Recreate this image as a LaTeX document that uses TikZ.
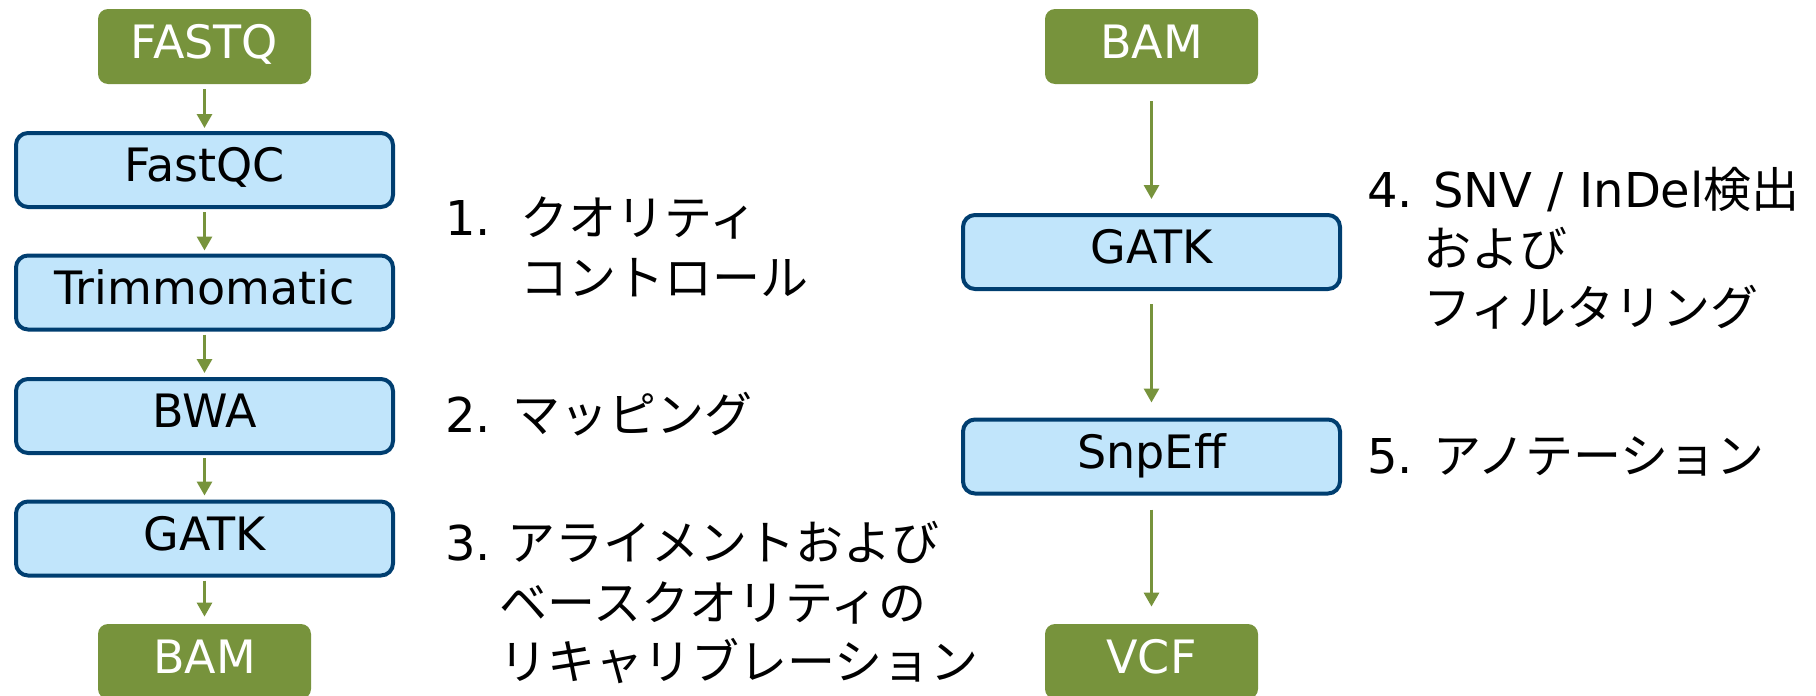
\documentclass[tikz,border=0pt]{standalone}
\usepackage{fontspec}
\setmainfont{DejaVu Sans}
\newfontfamily\jpfont{Noto Sans CJK JP}
\usetikzlibrary{arrows.meta}
\definecolor{fgreen}{RGB}{119,147,60}
\definecolor{boxfill}{RGB}{193,229,251}
\definecolor{boxline}{RGB}{0,62,112}
\begin{document}
\begin{tikzpicture}[x=0.5pt,y=-0.5pt,
  datbox/.style={fill=fgreen, text=white, rounded corners=5pt, minimum width=106.5pt, minimum height=37.5pt, inner sep=0pt, font=\fontsize{23}{28}\selectfont, text height=17pt, text depth=5.5pt},
  toolbox/.style={draw=boxline, line width=2pt, fill=boxfill, rounded corners=6pt, minimum width=188.5pt, minimum height=37pt, inner sep=0pt, font=\fontsize{23}{28}\selectfont, text height=17pt, text depth=5.5pt},
  arr/.style={draw=fgreen, line width=1.5pt, -{Triangle[width=7.5pt,length=7pt]}},
  lbl/.style={anchor=base west, inner sep=0pt, font=\fontsize{24}{30}\selectfont}]
\useasboundingbox (0,0) rectangle (1816,696);
% left column
\node[datbox]  (fastq)  at (204.5,46.5) {FASTQ};
\node[toolbox] (fastqc) at (204.5,170)  {FastQC};
\node[toolbox] (trim)   at (204.5,292.5){Trimmomatic};
\node[toolbox] (bwa)    at (204.5,416)  {BWA};
\node[toolbox] (gatka)  at (204.5,538.5){GATK};
\node[datbox]  (bama)   at (204.5,661.5){BAM};
% right column
\node[datbox]  (bamb)   at (1151.5,46.5){BAM};
\node[toolbox] (gatkb)  at (1151.5,252) {GATK};
\node[toolbox] (snpeff) at (1151.5,456.5){SnpEff};
\node[datbox]  (vcf)    at (1151.5,661.5){VCF};
% arrows
\draw[arr, shorten <=2.5pt, shorten >=1.5pt] (fastq) -- (fastqc);
\draw[arr, shorten <=1.5pt, shorten >=1.5pt] (fastqc) -- (trim);
\draw[arr, shorten <=1.5pt, shorten >=2pt] (trim) -- (bwa);
\draw[arr, shorten <=1.5pt, shorten >=2pt] (bwa) -- (gatka);
\draw[arr, shorten <=1.5pt, shorten >=3.5pt] (gatka) -- (bama);
\draw[arr, shorten <=8.5pt, shorten >=7pt] (bamb) -- (gatkb);
\draw[arr, shorten <=6.5pt, shorten >=7.5pt] (gatkb) -- (snpeff);
\draw[arr, shorten <=7pt, shorten >=8.5pt] (snpeff) -- (vcf);
% labels
\node[lbl] (l1a) at (445,235) {\makebox[37.5pt][l]{1.}{\jpfont クオリティ}};
\node[lbl] (l1b) at (520,295) {\jpfont コントロール};
\node[lbl] (l2)  at (445,432) {\makebox[33.5pt][l]{2.}{\jpfont マッピング}};
\node[lbl] (l3a) at (445,560) {\makebox[31pt][l]{3.}{\jpfont アライメントおよび}};
\node[lbl] (l3b) at (499,620) {\jpfont ベースクオリティの};
\node[lbl] (l3c) at (499,679) {\jpfont リキャリブレーション};
\node[lbl] (l4a) at (1367,207) {4. SNV / InDel{\jpfont 検出}};
\node[lbl] (l4b) at (1423,266) {\jpfont および};
\node[lbl] (l4c) at (1423,325) {\jpfont フィルタリング};
\node[lbl] (l5)  at (1367,473) {5. {\jpfont アノテーション}};
\end{tikzpicture}
\end{document}
